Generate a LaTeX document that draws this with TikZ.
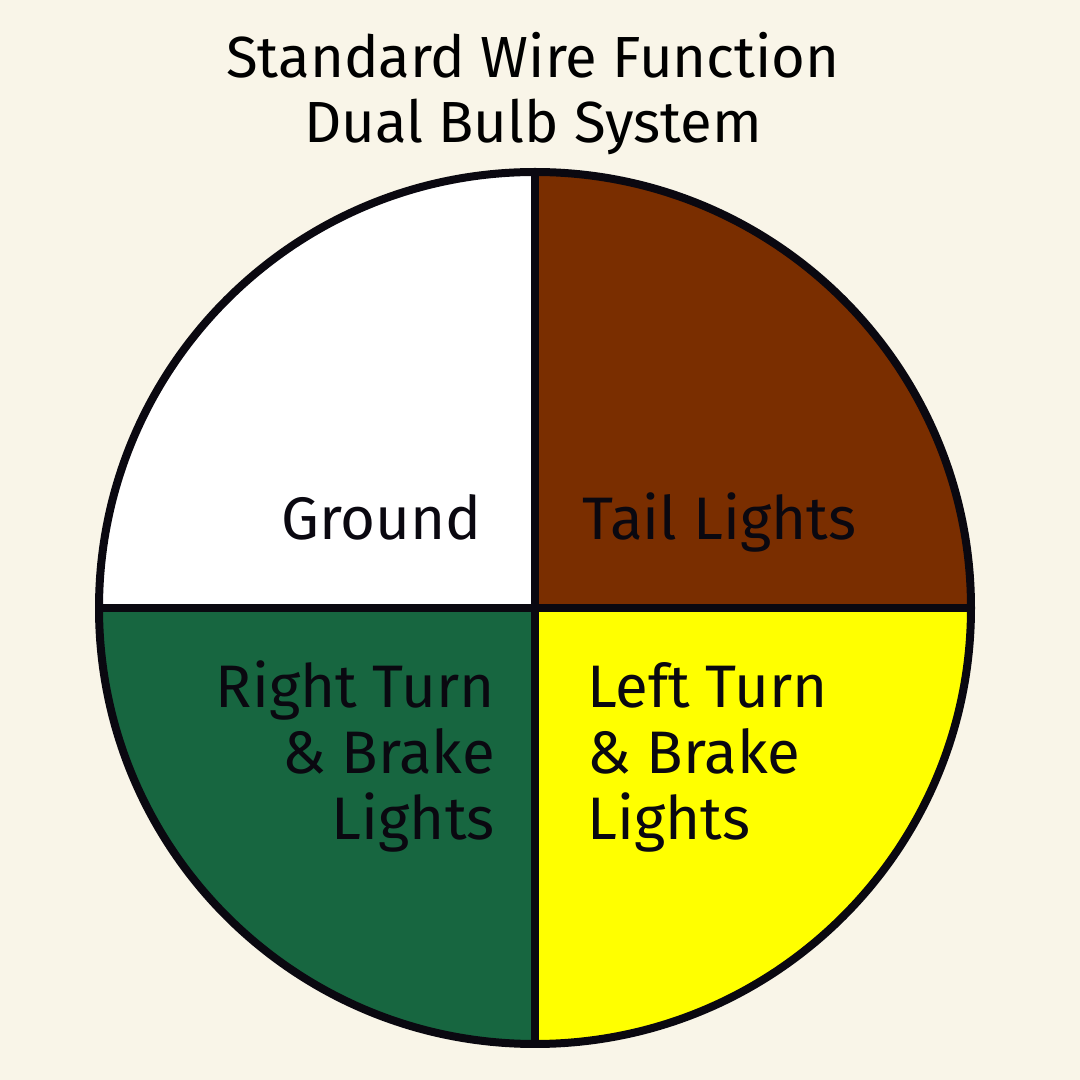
\documentclass[tikz,border=0pt]{standalone}
\usepackage{fontspec}
\setmainfont{Fira Sans}
\definecolor{bg}{HTML}{F9F5E8}
\definecolor{brownw}{HTML}{7A2E00}
\definecolor{greenw}{HTML}{176640}
\definecolor{yelloww}{HTML}{FFFF00}
\definecolor{ink}{HTML}{0A0810}
\tikzset{
  lbl/.style={font=\fontsize{60}{66}\selectfont, text=ink, inner sep=0pt},
  ttl/.style={font=\fontsize{58}{65}\selectfont, text=black, inner sep=0pt, align=center},
  edge/.style={draw=ink, line width=8pt}
}
\begin{document}
\begin{tikzpicture}[x=1pt,y=1pt]
\fill[bg] (0,0) rectangle (1080,1080);
\useasboundingbox (0,0) rectangle (1080,1080);
\coordinate (c) at (535,472);
\def\R{436}
\fill[white] (c) -- ++(-\R,0) arc[start angle=180,end angle=90,radius=\R] -- cycle;
\fill[brownw] (c) -- ++(0,\R) arc[start angle=90,end angle=0,radius=\R] -- cycle;
\fill[yelloww] (c) -- ++(\R,0) arc[start angle=0,end angle=-90,radius=\R] -- cycle;
\fill[greenw] (c) -- ++(0,-\R) arc[start angle=-90,end angle=-180,radius=\R] -- cycle;
\coordinate (t) at (535,908);
\coordinate (b) at (535,36);
\coordinate (l) at (99,472);
\coordinate (r) at (971,472);
\draw[edge] (c) circle[radius=\R];
\draw[edge] (t) -- (b);
\draw[edge] (l) -- (r);
\node[ttl, anchor=base] (title) at (533,937) {Standard Wire Function\\Dual Bulb System};
\node[lbl, anchor=base east] (ground) at (482,540) {Ground};
\node[lbl, anchor=base west] (tail) at (582,540) {Tail Lights};
\node[lbl, anchor=base east, align=right] (rt) at (495,240) {Right Turn\\\& Brake\\Lights};
\node[lbl, anchor=base west, align=left] (lt) at (587,240) {Left Turn\\\& Brake\\Lights};
\end{tikzpicture}
\end{document}
